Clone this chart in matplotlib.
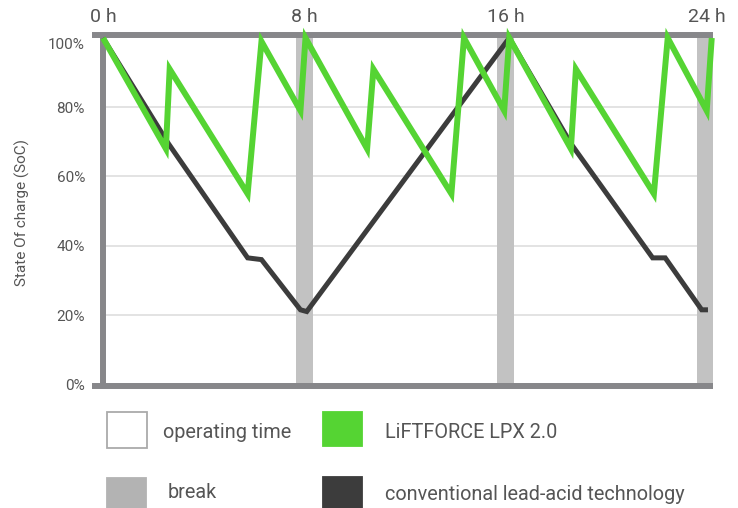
import matplotlib.pyplot as plt
from matplotlib.patches import Rectangle

# hours / state of charge (%) for the two battery types over a 24 h shift
lpx_hours = [0, 2.5, 2.65, 5.75, 6.3, 7.85, 8.05, 10.5, 10.75, 13.85, 14.35,
             15.95, 16.15, 18.6, 18.8, 21.9, 22.45, 24.0, 24.2]
lpx_soc = [100, 68, 91, 55, 99, 79, 100, 68, 91, 55, 100,
           79, 100, 68, 91, 55, 100, 79, 100]

lead_hours = [0, 2.6, 5.75, 6.3, 7.85, 8.1, 16.15, 18.6, 21.85, 22.35, 23.8, 24.05]
lead_soc = [100, 69.5, 36.5, 36, 21.5, 21, 100, 69.5, 36.5, 36.5, 21.5, 21.5]

breaks = [(7.67, 8.33), (15.67, 16.33), (23.6, 24.3)]
hour_ticks = [0, 8, 16, 24]
hour_labels = ['0 h', '8 h', '16 h', '24 h']
soc_ticks = [0, 20, 40, 60, 80, 100]
soc_labels = ['0%', '20%', '40%', '60%', '80%', '100%']

GREEN = '#55d433'
DARK = '#3c3c3c'
AXIS = '#87878a'
BAND = '#c2c2c2'
TEXT = '#555555'

plt.rcParams['font.family'] = ['Roboto', 'DejaVu Sans']

W, H = 738, 508
fig = plt.figure(figsize=(W / 100, H / 100), dpi=100)


def fx(x):
    return x / W


def fy(y):
    return 1 - y / H


ax = fig.add_axes([fx(103), fy(386), fx(713) - fx(103), fy(34.5) - fy(386)])
ax.set_xlim(0, 24.25)
ax.set_ylim(-0.5, 101)

for s in ax.spines.values():
    s.set_visible(False)

# grid
for v in soc_ticks[1:-1]:
    ax.axhline(v, color='#dedede', lw=1.2, zorder=0)

# breaks
for a, b in breaks:
    ax.axvspan(a, b, color=BAND, lw=0, zorder=1)

# frame: left, top and bottom bars, top/bottom reaching a bit past the left one
ax.plot([0, 0], [0, 1], transform=ax.transAxes, color=AXIS, lw=4.3,
        solid_capstyle='butt', clip_on=False, zorder=2)
ax.plot([-11 / 610, 1], [1, 1], transform=ax.transAxes, color=AXIS, lw=4.3,
        solid_capstyle='butt', clip_on=False, zorder=2)
ax.plot([-11 / 610, 1], [0, 0], transform=ax.transAxes, color=AXIS, lw=4.3,
        solid_capstyle='butt', clip_on=False, zorder=2)

ax.plot(lead_hours, lead_soc, color=DARK, lw=3.6, solid_joinstyle='miter',
        solid_capstyle='butt', clip_on=False, zorder=3)
ax.plot(lpx_hours, lpx_soc, color=GREEN, lw=4.3, solid_joinstyle='miter',
        solid_capstyle='butt', clip_on=False, zorder=4)

ax.xaxis.tick_top()
ax.set_xticks(hour_ticks)
ax.set_xticklabels(hour_labels, fontsize=14, color=TEXT)
ax.tick_params(axis='x', length=0, pad=6)
ax.set_yticks(soc_ticks)
ax.set_yticklabels(soc_labels, fontsize=11, color=TEXT)
ax.tick_params(axis='y', length=0, pad=13)
ax.get_yticklabels()[-1].set_va('top')

fig.text(fx(22), fy(213), 'State Of charge (SoC)', rotation=90, fontsize=11,
         color=TEXT, ha='center', va='center')

# legend
boxes = [
    (107, 412, 40, 36, 'white', '#aaaaaa', 'operating time', 163, 432),
    (323, 412, 39, 34, GREEN, GREEN, 'LiFTFORCE LPX 2.0', 385, 432),
    (107, 478, 39, 31, '#b3b3b3', '#b3b3b3', 'break', 168, 493),
    (323, 477, 39, 32, DARK, DARK, 'conventional lead-acid technology', 385, 494),
]
for x, y, w, h, fc, ec, label, tx, ty in boxes:
    fig.add_artist(Rectangle((fx(x), fy(y + h)), w / W, h / H, facecolor=fc,
                             edgecolor=ec, lw=1.3, transform=fig.transFigure))
    fig.text(fx(tx), fy(ty), label, fontsize=14.3, color=TEXT, va='center')

fig.savefig('out.png', dpi=100)
